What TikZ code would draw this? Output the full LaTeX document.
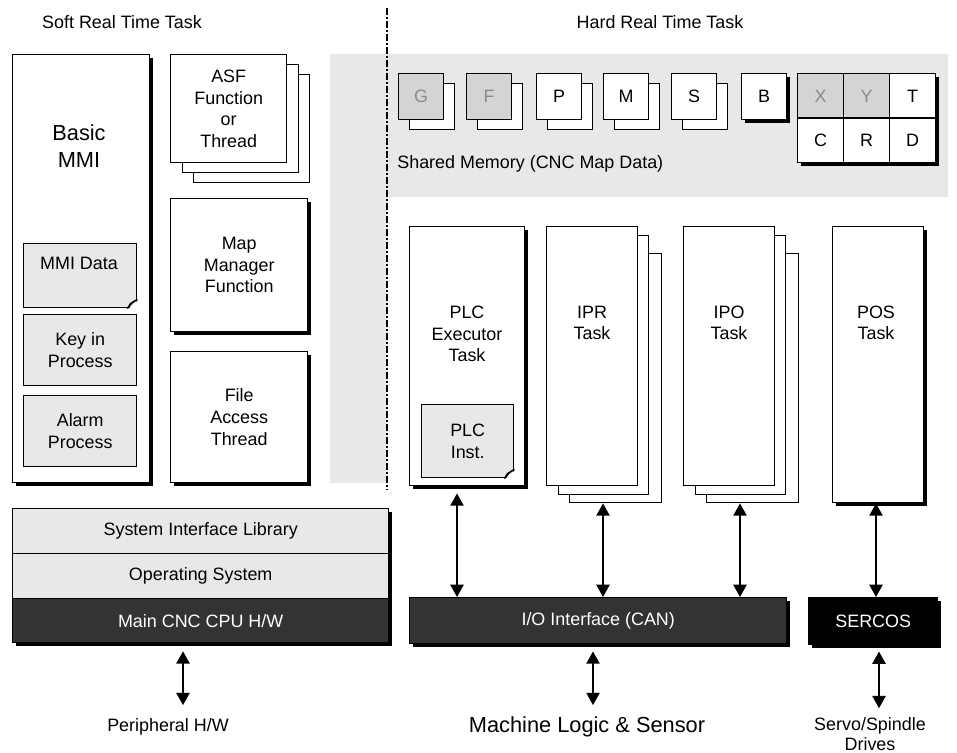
\documentclass[tikz,border=0pt]{standalone}
\usepackage{fontspec}
\setmainfont{Liberation Sans}
\usetikzlibrary{positioning,calc,shadows,arrows.meta}

\definecolor{panelgray}{HTML}{E8E8E8}
\definecolor{cellgray}{HTML}{D4D4D4}
\definecolor{darkhw}{HTML}{333333}
\definecolor{dimtext}{HTML}{8A8A8A}

\newcommand{\normtext}{\fontsize{10.2pt}{12.3pt}\selectfont}
\newcommand{\bigtext}{\fontsize{12.4pt}{15.3pt}\selectfont}
\def\pxu{0.02cm}

% folded corner on a note box
\newcommand{\dogear}[1]{%
  \fill[white] ($(#1.south east)+(1.5,-9)$) -- ($(#1.south east)+(1.5,1.5)$)
    -- ($(#1.south east)+(-10,1.5)$) -- cycle;
  \draw[line width=0.8pt] ($(#1.south east)+(0,-9)$)
    .. controls ($(#1.south east)+(-5,-6)$) .. ($(#1.south east)+(-10,0)$);
  \draw[line width=0.6pt] ($(#1.south east)+(-10,0)$) -- ($(#1.south east)+(-7,-5)$)
    -- ($(#1.south east)+(0,-9)$);
}

\tikzset{
  box/.style={draw, line width=0.8pt, fill=white, inner sep=0pt,
    anchor=north west, align=center},
  shadowed/.style={drop shadow={shadow xshift=2pt, shadow yshift=-2pt,
    fill=black, opacity=1}},
  note/.style={box, fill=panelgray},
  mem/.style={box, minimum width=45*\pxu, minimum height=46*\pxu},
  cell/.style={box, minimum width=46*\pxu, minimum height=44.5*\pxu},
  biarrow/.style={line width=1.1pt,
    {Triangle[length=7pt,width=7.5pt]}-{Triangle[length=7pt,width=7.5pt]}},
  txt/.style={inner sep=0pt, align=center},
}

\begin{document}
\begin{tikzpicture}[x=0.02cm, y=-0.02cm, font=\normtext]
\useasboundingbox (0,0) rectangle (957,753);

% shared memory area and task split
\fill[panelgray] (330,54) -- (948,54) -- (948,197) -- (387,197)
  -- (387,483) -- (330,483) -- cycle;
\draw[line width=0.9pt, dash pattern=on 4pt off 1.2pt on 1pt off 1.2pt]
  (387,8) -- (387,490);

\node[txt] (soft) at (122,22) {Soft Real Time Task};
\node[txt] (hard) at (660,22) {Hard Real Time Task};

% soft real time side
\node[box, shadowed, minimum width=137*\pxu, minimum height=428*\pxu] (MMI) at (12,54) {};
\node[txt, font=\bigtext] (basic) at (79,146) {Basic\\MMI};
\node[note, minimum width=113*\pxu, minimum height=64*\pxu] (MD) at (23,243) {};
\dogear{MD}
\node[txt] (mdtext) at (79,263) {MMI Data};
\node[note, minimum width=113*\pxu, minimum height=71*\pxu] (KP) at (23,314) {Key in\\Process};
\node[note, minimum width=113*\pxu, minimum height=71*\pxu] (AP) at (23,395) {Alarm\\Process};

\foreach \s in {2,1}
  \node[box, minimum width=116*\pxu, minimum height=108*\pxu] (ASF\s) at ({170+11.5*\s},{54+10*\s}) {};
\node[box, minimum width=116*\pxu, minimum height=108*\pxu] (ASF) at (170,54)
  {ASF\\Function\\or\\Thread};
\node[box, shadowed, minimum width=137*\pxu, minimum height=133*\pxu] (MAP) at (170,198)
  {Map\\Manager\\Function};
\node[box, shadowed, minimum width=137*\pxu, minimum height=131*\pxu] (FAT) at (170,351)
  {File\\Access\\Thread};

% map data
\foreach \n/\x/\c/\t in {G/398/cellgray/dimtext, F/466/cellgray/dimtext,
    P/536/white/black, M/603/white/black, S/671/white/black} {
  \node[mem] (\n back) at ({\x+11},83) {};
  \node[mem, fill=\c, text=\t] (\n) at (\x,73) {\n};
}
\node[mem, shadowed] (B) at (741,73) {B};
\node[box, shadowed, minimum width=138*\pxu, minimum height=89*\pxu] (axes) at (797,73) {};
\foreach \n/\i/\j/\c/\t in {X/0/0/cellgray/dimtext, Y/1/0/cellgray/dimtext,
    T/2/0/white/black, C/0/1/white/black, R/1/1/white/black, D/2/1/white/black}
  \node[cell, fill=\c, text=\t] (\n) at ({797+46*\i},{73+44.5*\j}) {\n};
\node[txt, anchor=west] (shm) at (397,164) {Shared Memory (CNC Map Data)};

% hard real time tasks
\node[box, shadowed, minimum width=115*\pxu, minimum height=259*\pxu] (PLC) at (409,226) {};
\node[txt] (plctext) at (467,334) {PLC\\Executor\\Task};
\node[note, minimum width=92*\pxu, minimum height=73*\pxu] (PI) at (421,404) {PLC\\Inst.};
\dogear{PI}

\foreach \n/\x in {IPR/546, IPO/683} {
  \node[box, minimum width=92*\pxu, minimum height=249*\pxu] (\n3) at ({\x+23},253) {};
  \node[box, minimum width=90*\pxu, minimum height=259*\pxu] (\n2) at ({\x+12},235) {};
  \node[box, minimum width=91*\pxu, minimum height=259*\pxu] (\n) at (\x,226) {};
  \node[txt] (\n text) at ({\x+46},323) {\n\\Task};
}
\node[box, shadowed, minimum width=91*\pxu, minimum height=276*\pxu] (POS) at (832,226) {};
\node[txt] (postext) at (876,323) {POS\\Task};

% hardware layer
\node[box, shadowed, fill=panelgray, minimum width=376*\pxu, minimum height=45*\pxu] (SIL) at (12,508)
  {System Interface Library};
\node[box, shadowed, fill=panelgray, minimum width=376*\pxu, minimum height=45*\pxu] (OS) at (12,553)
  {Operating System};
\node[box, shadowed, fill=darkhw, text=white, minimum width=376*\pxu, minimum height=44*\pxu] (MAIN) at (12,598)
  {Main CNC CPU H/W};
\node[box, shadowed, fill=darkhw, text=white, minimum width=377*\pxu, minimum height=46*\pxu] (IO) at (409,597)
  {I/O Interface (CAN)};
\node[box, shadowed, fill=black, text=white, minimum width=129*\pxu, minimum height=47*\pxu] (SERCOS) at (808,597)
  {SERCOS};

\node[txt] (PER) at (168,727) {Peripheral H/W};
\node[txt, font=\bigtext] (MLS) at (587,727) {Machine Logic \& Sensor};
\node[txt, font=\fontsize{10.2pt}{11.4pt}\selectfont] (DRV) at (870,734) {Servo/Spindle\\Drives};

% links
\draw[biarrow, shorten <=4pt] (PLC.south -| 457,0) -- (IO.north -| 457,0);
\draw[biarrow] (IPR3.south -| 603,0) -- (IO.north -| 603,0);
\draw[biarrow] (IPO3.south -| 740,0) -- (IO.north -| 740,0);
\draw[biarrow] (POS.south -| 876,0) -- (SERCOS.north -| 876,0);
\draw[biarrow, shorten <=4.5pt, shorten >=7.5pt] (MAIN.south -| 183,0) -- (PER.north -| 183,0);
\draw[biarrow, shorten <=4pt, shorten >=6.5pt] (IO.south -| 593,0) -- (MLS.north -| 593,0);
\draw[biarrow, shorten <=3.5pt, shorten >=5pt] (SERCOS.south -| 879,0) -- (DRV.north -| 879,0);

\end{tikzpicture}
\end{document}
